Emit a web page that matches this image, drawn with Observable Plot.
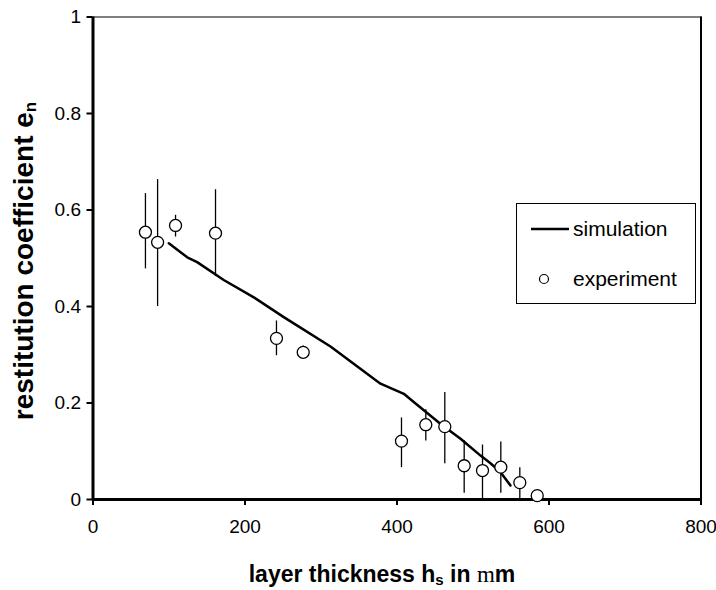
<!DOCTYPE html>
<html>
<head>
<meta charset="utf-8">
<script src="https://cdn.jsdelivr.net/npm/d3@7"></script>
<script src="https://cdn.jsdelivr.net/npm/@observablehq/plot@0.6"></script>
<style>
  html, body { margin: 0; padding: 0; background: #fff; }
  #wrap { position: relative; width: 716px; height: 590px; font-family: "Liberation Sans", Arial, sans-serif; }
  #legend { position: absolute; left: 516px; top: 203px; width: 180px; height: 101px; border: 1px solid #000; background: #fff; box-sizing: border-box; }
  #legend .row { position: absolute; font-size: 21px; line-height: 21px; color: #000; white-space: nowrap; }
</style>
</head>
<body>
<div id="wrap"></div>
<script>
// experiment
const expX   = [69, 85, 108.6, 161.2, 241.4, 276.6, 405.9, 437.9, 462.9, 488.4, 512.5, 536.6, 561.6, 584.5];
const expY   = [0.554, 0.533, 0.568, 0.552, 0.334, 0.305, 0.121, 0.155, 0.151, 0.070, 0.060, 0.067, 0.035, 0.008];
const expLo  = [0.478, 0.400, 0.544, 0.462, 0.298, 0.292, 0.066, 0.121, 0.074, 0.013, 0.000, 0.013, 0.000, 0.008];
const expHi  = [0.634, 0.663, 0.589, 0.642, 0.370, 0.318, 0.169, 0.186, 0.222, 0.122, 0.113, 0.119, 0.066, 0.008];
// simulation
const simX = [99.7, 124, 137, 172, 211.6, 251, 312.5, 378.3, 409, 422, 457, 483.6, 509.9, 523, 536, 549.3];
const simY = [0.531, 0.502, 0.492, 0.455, 0.419, 0.378, 0.317, 0.240, 0.219, 0.202, 0.157, 0.126, 0.091, 0.075, 0.057, 0.029];
// ticks
const xTicks = [0, 200, 400, 600, 800];
const yTicks = [0, 0.2, 0.4, 0.6, 0.8, 1];

const exp = expX.map((x, i) => ({x, y: expY[i], lo: expLo[i], hi: expHi[i]}));
const sim = simX.map((x, i) => ({x, y: simY[i]}));

const chart = Plot.plot({
  width: 716,
  height: 590,
  marginLeft: 92.5,
  marginRight: 15.5,
  marginTop: 16.5,
  marginBottom: 91,
  style: {fontFamily: "Liberation Sans, Arial, sans-serif", fontSize: "19px", color: "#000", background: "#fff"},
  x: {domain: [0, 800], ticks: xTicks, tickFormat: d => String(d), label: null},
  y: {domain: [0, 1], ticks: yTicks, tickFormat: d => String(d), label: null},
  marks: [
    Plot.frame({stroke: "#000", strokeWidth: 1}),
    Plot.ruleX([800], {stroke: "#000", strokeWidth: 2}),
    Plot.axisX({ticks: xTicks, tickFormat: d => String(d), tickSize: 6, tickPadding: 14, fontSize: 19, strokeWidth: 2, label: null}),
    Plot.axisY({ticks: yTicks, tickFormat: d => String(d), tickSize: 6, tickPadding: 6, fontSize: 19, strokeWidth: 2, label: null}),
    Plot.ruleY([0], {stroke: "#000", strokeWidth: 3}),
    Plot.ruleX([0], {stroke: "#000", strokeWidth: 3}),
    Plot.ruleX(exp.filter(d => d.hi > d.lo), {x: "x", y1: "lo", y2: "hi", stroke: "#000", strokeWidth: 1.3}),
    Plot.line(sim, {x: "x", y: "y", stroke: "#000", strokeWidth: 2.5, curve: "linear"}),
    Plot.dot(exp, {x: "x", y: "y", r: 6, fill: "#fff", stroke: "#000", strokeWidth: 1.3})
  ]
});

const wrap = document.getElementById("wrap");
wrap.appendChild(chart);

// axis titles
const svg = d3.select(chart);
svg.append("text")
  .attr("x", 382).attr("y", 582)
  .attr("text-anchor", "middle")
  .style("font-family", "Liberation Sans, Arial, sans-serif")
  .style("font-size", "23px").style("font-weight", "bold").attr("fill", "#000")
  .call(t => {
    t.append("tspan").text("layer thickness h");
    t.append("tspan").attr("dy", 3).style("font-size", "15px").text("s");
    t.append("tspan").attr("dy", -3).text(" in ");
    t.append("tspan").style("font-family", "Liberation Serif, serif").style("font-weight", "normal").text("m");
    t.append("tspan").text("m");
  });
svg.append("text")
  .attr("transform", "translate(33,261) rotate(-90)")
  .attr("text-anchor", "middle")
  .style("font-family", "Liberation Sans, Arial, sans-serif")
  .style("font-size", "28px").style("font-weight", "bold").attr("fill", "#000")
  .call(t => {
    t.append("tspan").text("restitution coefficient e");
    t.append("tspan").attr("dy", 3).style("font-size", "17px").text("n");
  });

// legend (HTML overlay)
const legend = document.createElement("div");
legend.id = "legend";
legend.innerHTML = `
  <svg width="180" height="101" style="position:absolute;left:0;top:0">
    <line x1="14" x2="52" y1="25" y2="25" stroke="#000" stroke-width="2.5"/>
    <circle cx="27" cy="75" r="4.5" fill="#fff" stroke="#000" stroke-width="1.2"/>
  </svg>
  <div class="row" style="left:56px;top:14px">simulation</div>
  <div class="row" style="left:56px;top:64px">experiment</div>`;
wrap.appendChild(legend);
</script>
</body>
</html>
